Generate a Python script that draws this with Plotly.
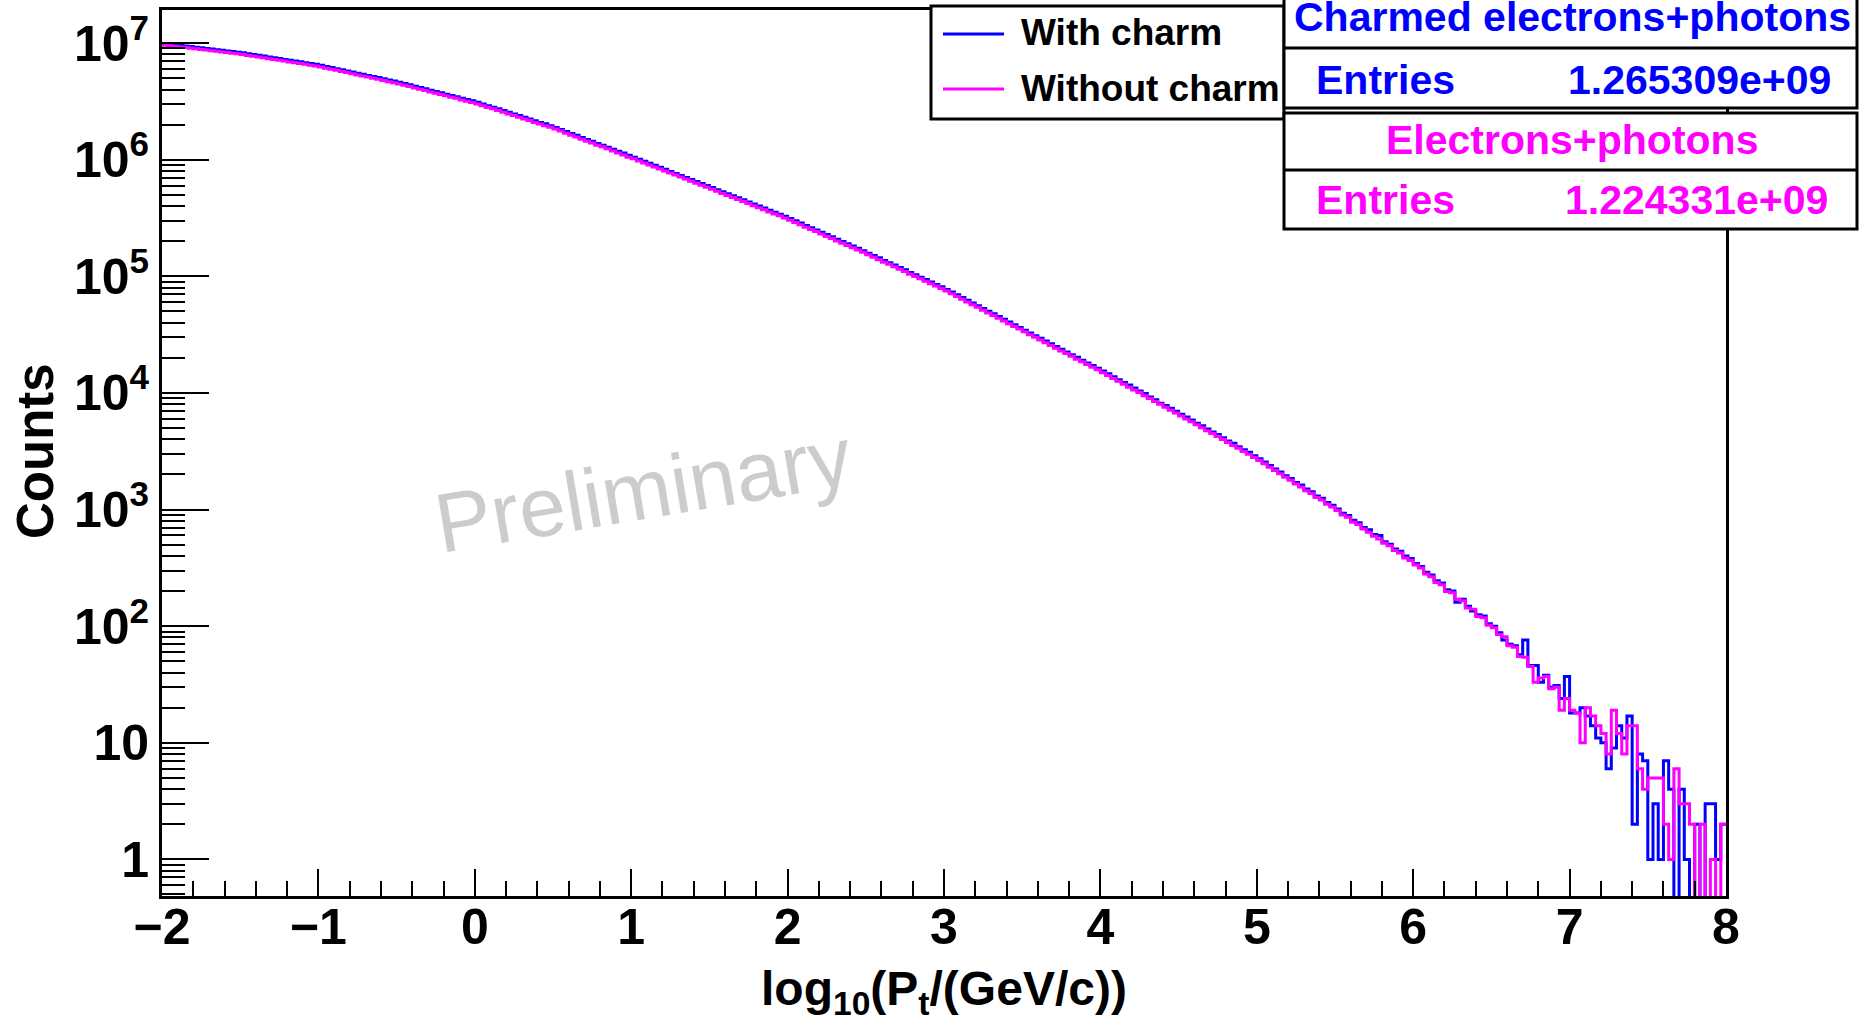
import plotly.graph_objects as go

# ---------------- data ----------------
x_low, x_high, n_bins = -2.0, 8.0, 300

with_charm = [
    9.94e6, 9.82e6, 9.70e6, 9.58e6, 9.46e6, 9.35e6, 9.23e6, 9.12e6, 9.01e6, 8.89e6, 8.79e6, 8.68e6, 8.57e6, 8.47e6, 8.37e6,
    8.25e6, 8.12e6, 7.99e6, 7.86e6, 7.74e6, 7.61e6, 7.49e6, 7.37e6, 7.25e6, 7.14e6, 7.02e6, 6.91e6, 6.80e6, 6.69e6, 6.59e6,
    6.46e6, 6.31e6, 6.18e6, 6.04e6, 5.91e6, 5.78e6, 5.65e6, 5.52e6, 5.41e6, 5.28e6, 5.16e6, 5.06e6, 4.94e6, 4.83e6, 4.73e6,
    4.61e6, 4.50e6, 4.39e6, 4.27e6, 4.16e6, 4.06e6, 3.94e6, 3.85e6, 3.75e6, 3.65e6, 3.56e6, 3.47e6, 3.37e6, 3.29e6, 3.21e6,
    3.11e6, 3.01e6, 2.91e6, 2.82e6, 2.73e6, 2.64e6, 2.55e6, 2.47e6, 2.39e6, 2.31e6, 2.24e6, 2.16e6, 2.09e6, 2.03e6, 1.96e6,
    1.89e6, 1.82e6, 1.75e6, 1.68e6, 1.62e6, 1.55e6, 1.49e6, 1.44e6, 1.38e6, 1.33e6, 1.28e6, 1.23e6, 1.18e6, 1.14e6, 1.09e6,
    1.05e6, 1.01e6, 9.70e5, 9.32e5, 8.95e5, 8.60e5, 8.27e5, 7.94e5, 7.63e5, 7.34e5, 7.05e5, 6.77e5, 6.51e5, 6.25e5, 6.01e5,
    5.77e5, 5.54e5, 5.32e5, 5.11e5, 4.91e5, 4.71e5, 4.53e5, 4.35e5, 4.17e5, 4.01e5, 3.85e5, 3.69e5, 3.55e5, 3.41e5, 3.27e5,
    3.13e5, 2.99e5, 2.86e5, 2.73e5, 2.61e5, 2.50e5, 2.39e5, 2.28e5, 2.18e5, 2.08e5, 1.99e5, 1.90e5, 1.82e5, 1.74e5, 1.66e5,
    1.58e5, 1.51e5, 1.44e5, 1.37e5, 1.31e5, 1.25e5, 1.19e5, 1.14e5, 1.08e5, 1.03e5, 9.84e4, 9.38e4, 8.95e4, 8.53e4, 8.14e4,
    7.73e4, 7.33e4, 6.95e4, 6.58e4, 6.24e4, 5.91e4, 5.60e4, 5.31e4, 5.03e4, 4.77e4, 4.52e4, 4.28e4, 4.06e4, 3.85e4, 3.65e4,
    3.45e4, 3.27e4, 3.10e4, 2.94e4, 2.79e4, 2.64e4, 2.50e4, 2.37e4, 2.25e4, 2.13e4, 2.02e4, 1.91e4, 1.81e4, 1.72e4, 1.63e4,
    1.54e4, 1.46e4, 1.38e4, 1.30e4, 1.23e4, 1.17e4, 1.10e4, 1.04e4, 9900, 9240, 8730, 8150, 7790, 7400, 6960,
    6570, 6230, 5850, 5510, 5240, 4910, 4630, 4400, 4120, 3880, 3700, 3460, 3260, 3100, 2900,
    2730, 2560, 2390, 2230, 2100, 1950, 1850, 1710, 1620, 1500, 1420, 1310, 1250, 1150, 1090,
    1010, 930, 890, 810, 770, 700, 670, 610, 600, 530, 505, 460, 440, 400, 380,
    345, 325, 290, 275, 245, 235, 205, 200, 160, 170, 148, 135, 125, 122, 105,
    100, 88, 76, 70, 68, 57, 76, 46, 46, 33, 38, 30, 31, 24, 37,
    18, 18, 20, 17, 14, 11, 10, 6, 9, 14, 11, 17, 2, 8, 7,
    1, 3, 1, 7, 4, 0, 4, 1, 0, 2, 0, 3, 3, 1, 2,
]

without_charm = [
    9.61e6, 9.50e6, 9.38e6, 9.26e6, 9.15e6, 9.04e6, 8.93e6, 8.82e6, 8.71e6, 8.60e6, 8.50e6, 8.39e6, 8.29e6, 8.19e6, 8.09e6,
    7.98e6, 7.85e6, 7.73e6, 7.60e6, 7.48e6, 7.36e6, 7.24e6, 7.13e6, 7.01e6, 6.90e6, 6.79e6, 6.68e6, 6.58e6, 6.47e6, 6.37e6,
    6.25e6, 6.10e6, 5.98e6, 5.84e6, 5.72e6, 5.59e6, 5.46e6, 5.34e6, 5.23e6, 5.11e6, 4.99e6, 4.89e6, 4.78e6, 4.67e6, 4.57e6,
    4.46e6, 4.35e6, 4.25e6, 4.13e6, 4.02e6, 3.93e6, 3.81e6, 3.72e6, 3.63e6, 3.53e6, 3.44e6, 3.36e6, 3.26e6, 3.18e6, 3.10e6,
    3.01e6, 2.91e6, 2.81e6, 2.73e6, 2.64e6, 2.55e6, 2.47e6, 2.39e6, 2.31e6, 2.23e6, 2.17e6, 2.09e6, 2.02e6, 1.96e6, 1.90e6,
    1.83e6, 1.76e6, 1.69e6, 1.62e6, 1.57e6, 1.50e6, 1.44e6, 1.39e6, 1.33e6, 1.29e6, 1.24e6, 1.19e6, 1.14e6, 1.10e6, 1.05e6,
    1.02e6, 9.77e5, 9.38e5, 9.01e5, 8.65e5, 8.32e5, 8.00e5, 7.68e5, 7.38e5, 7.10e5, 6.82e5, 6.55e5, 6.30e5, 6.04e5, 5.81e5,
    5.58e5, 5.36e5, 5.14e5, 4.94e5, 4.75e5, 4.55e5, 4.38e5, 4.21e5, 4.03e5, 3.88e5, 3.72e5, 3.57e5, 3.43e5, 3.30e5, 3.16e5,
    3.03e5, 2.89e5, 2.77e5, 2.64e5, 2.52e5, 2.42e5, 2.31e5, 2.20e5, 2.11e5, 2.01e5, 1.92e5, 1.84e5, 1.76e5, 1.68e5, 1.61e5,
    1.53e5, 1.46e5, 1.39e5, 1.32e5, 1.27e5, 1.21e5, 1.15e5, 1.10e5, 1.04e5, 9.96e4, 9.52e4, 9.07e4, 8.65e4, 8.25e4, 7.87e4,
    7.47e4, 7.09e4, 6.72e4, 6.36e4, 6.03e4, 5.72e4, 5.42e4, 5.13e4, 4.86e4, 4.61e4, 4.37e4, 4.14e4, 3.93e4, 3.72e4, 3.53e4,
    3.34e4, 3.16e4, 3.00e4, 2.84e4, 2.70e4, 2.55e4, 2.42e4, 2.29e4, 2.18e4, 2.06e4, 1.95e4, 1.85e4, 1.75e4, 1.66e4, 1.58e4,
    1.49e4, 1.41e4, 1.33e4, 1.26e4, 1.19e4, 1.12e4, 1.06e4, 1.01e4, 9460, 8940, 8440, 7980, 7530, 7120, 6730,
    6350, 5990, 5660, 5330, 5030, 4750, 4480, 4230, 3980, 3750, 3540, 3350, 3150, 2980, 2800,
    2640, 2470, 2310, 2160, 2030, 1890, 1780, 1660, 1560, 1450, 1370, 1270, 1210, 1110, 1050,
    980, 900, 860, 780, 745, 680, 640, 590, 560, 515, 490, 445, 425, 385, 365,
    335, 315, 280, 265, 237, 227, 198, 193, 170, 165, 143, 140, 121, 118, 102,
    97, 85, 81, 68, 66, 55, 54, 45, 33, 36, 37, 29, 30, 19, 24,
    19, 18, 10, 20, 17, 14, 12, 8, 19, 12, 8, 14, 14, 6, 4,
    5, 5, 5, 2, 1, 6, 3, 3, 2, 0, 2, 0, 1, 0, 2,
]

x_tick_values = [-2, -1, 0, 1, 2, 3, 4, 5, 6, 7, 8]
x_tick_labels = ["\u22122", "\u22121", "0", "1", "2", "3", "4", "5", "6", "7", "8"]
y_tick_values = [1, 10, 1e2, 1e3, 1e4, 1e5, 1e6, 1e7]
y_tick_labels = ["1", "10", "10<sup>2</sup>", "10<sup>3</sup>", "10<sup>4</sup>",
                 "10<sup>5</sup>", "10<sup>6</sup>", "10<sup>7</sup>"]

series_names = ["With charm", "Without charm"]
stat_titles = ["Charmed electrons+photons", "Electrons+photons"]
stat_entries = ["1.265309e+09", "1.224331e+09"]

# ---------------- figure ----------------
W, H = 1859, 1030
L, R, T, B = 162, 133, 10, 134
PW, PH = W - L - R, H - T - B
BLUE, MAGENTA = "#0000ff", "#ff00ff"
FONT = "Liberation Sans, Arial, Helvetica, sans-serif"


def px(x):
    return (x - L) / PW


def py(y):
    return (H - B - y) / PH


width = (x_high - x_low) / n_bins
edges = [x_low + i * width for i in range(n_bins + 1)]


def step_trace(values, color):
    yv = [v if v > 0 else 0.05 for v in values]
    yv = yv + [yv[-1]]
    return go.Scatter(x=edges, y=yv, mode="lines", line=dict(color=color, width=3, shape="hv"),
                      hoverinfo="skip", showlegend=False)


fig = go.Figure()
fig.add_trace(step_trace(with_charm, BLUE))
fig.add_trace(step_trace(without_charm, MAGENTA))

minor_y = [m * 10 ** k for k in range(0, 8) for m in range(2, 10) if m * 10 ** k <= 1.9e7]
minor_y = [0.5, 0.6, 0.7, 0.8, 0.9] + minor_y

tick_font = dict(family=FONT, size=50, color="black", weight="bold")

fig.update_xaxes(range=[x_low, x_high], showline=True, linecolor="black", linewidth=3, mirror=True,
                 ticks="inside", ticklen=27, tickwidth=2, tickcolor="black", ticklabelstandoff=-15,
                 tickmode="array", tickvals=x_tick_values, ticktext=x_tick_labels, tickfont=tick_font,
                 showgrid=False, zeroline=False,
                 minor=dict(ticks="inside", ticklen=15, tickwidth=2, tickcolor="black", dtick=0.2, tick0=0,
                            showgrid=False))
fig.update_yaxes(type="log", range=[-0.314, 7.284], showline=True, linecolor="black", linewidth=3, mirror=True,
                 ticks="inside", ticklen=47, tickwidth=2, tickcolor="black",
                 tickmode="array", tickvals=y_tick_values, ticktext=y_tick_labels, tickfont=tick_font,
                 showgrid=False, zeroline=False,
                 minor=dict(ticks="inside", ticklen=23, tickwidth=2, tickcolor="black", tickvals=minor_y,
                            showgrid=False))

shapes = []
annotations = []


def rect(x0, y0, x1, y1):
    shapes.append(dict(type="rect", xref="paper", yref="paper", x0=px(x0), x1=px(x1), y0=py(y1), y1=py(y0),
                       fillcolor="white", line=dict(color="black", width=3), layer="above"))


def hline(x0, x1, y, color="black", w=3):
    shapes.append(dict(type="line", xref="paper", yref="paper", x0=px(x0), x1=px(x1), y0=py(y), y1=py(y),
                       line=dict(color=color, width=w), layer="above"))


def text(s, x, y, size, color="black", anchor="left", bold=True, angle=0, family=FONT):
    annotations.append(dict(text=s, xref="paper", yref="paper", x=px(x), y=py(y), xanchor=anchor,
                            yanchor="middle", showarrow=False, textangle=angle,
                            font=dict(family=family, size=size, color=color,
                                      weight="bold" if bold else "normal")))


# legend
rect(931, 6, 1284, 119)
hline(943, 1004, 34, BLUE)
hline(943, 1004, 89, MAGENTA)
text(series_names[0], 1019, 33, 37)
text(series_names[1], 1019, 88, 37)

# stat boxes
rect(1284, -3, 1857, 108)
hline(1284, 1857, 48)
text(stat_titles[0], 1572, 17, 41, BLUE, "center")
text("Entries", 1314, 80, 41, BLUE)
text(stat_entries[0], 1833, 80, 41, BLUE, "right")

rect(1284, 113, 1857, 229)
hline(1284, 1857, 170)
text(stat_titles[1], 1572, 140, 41, MAGENTA, "center")
text("Entries", 1314, 200, 41, MAGENTA)
text(stat_entries[1], 1830, 200, 41, MAGENTA, "right")

# axis titles
text("Counts", 35, 451, 51, "black", "center", angle=-90)
text("log<sub>10</sub>(P<sub>t</sub>/(GeV/c))", 944, 992, 48, "black", "center")

# watermark
text("Preliminary", 643, 490, 84, "#cccccc", "center", bold=False, angle=-9.5)

fig.update_layout(width=W, height=H, margin=dict(l=L, r=R, t=T, b=B, autoexpand=False),
                  paper_bgcolor="white", plot_bgcolor="white", showlegend=False,
                  shapes=shapes, annotations=annotations)

fig.write_html("out.html")
